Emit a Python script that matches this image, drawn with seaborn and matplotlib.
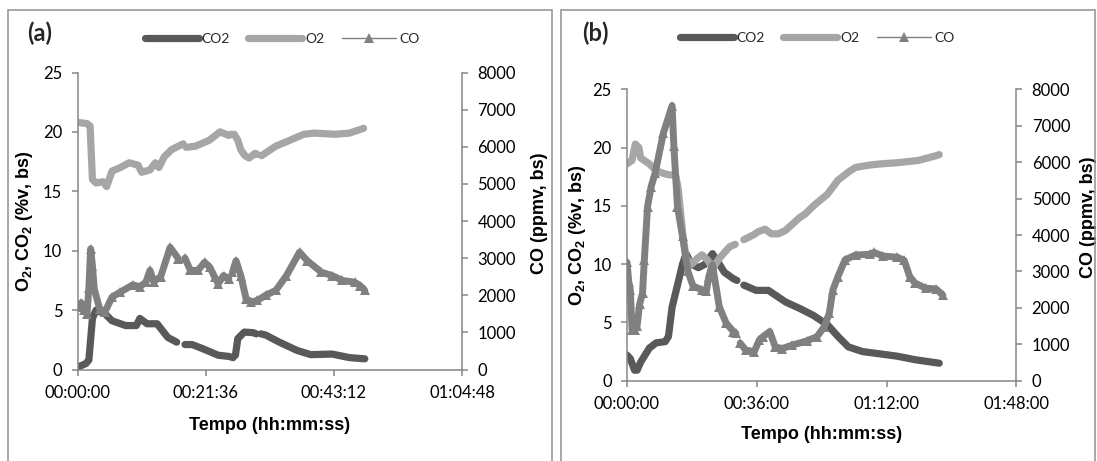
import numpy as np
import pandas as pd
import matplotlib
matplotlib.use("Agg")
import matplotlib.pyplot as plt
import seaborn as sns
from matplotlib.lines import Line2D
from matplotlib.patches import Rectangle
from matplotlib.ticker import FuncFormatter

sns.set_theme(style="white")
plt.rcParams["font.family"] = ["Lato", "DejaVu Sans"]
plt.rcParams["mathtext.fontset"] = "custom"
plt.rcParams["mathtext.rm"] = "Liberation Sans:bold"
plt.rcParams["mathtext.bf"] = "Liberation Sans:bold"
plt.rcParams["mathtext.it"] = "Liberation Sans:bold:italic"

nan = np.nan

# ---------------- data (time in minutes; nan = gap in the record) ----------------
# Panel (a)
a_o2_t = [0, 1.6, 2.1, 2.5, 3.1, 4.3, 4.9, 5.8, 7.2, 8.7, 10.2, 10.8, 12.2, 13.1, 13.7, 14.6, 15.8, 17.0, 17.8, nan,
          18.3, 19.9, 22.2, 24.0, 25.5, 25.9, nan,
          26.4, 27.0, 27.5, 28.2, 28.9, 29.9, 30.3, nan,
          31.0, 33.4, 35.8, 38.1, 39.9, 43.4, 45.8, 48.2]
a_o2_v = [20.8, 20.7, 20.5, 16.0, 15.7, 15.8, 15.4, 16.7, 17.0, 17.4, 17.2, 16.6, 16.8, 17.4, 17.0, 17.9, 18.5, 18.8, 19.0, nan,
          18.7, 18.8, 19.3, 20.0, 19.7, 19.8, nan,
          19.8, 19.3, 18.5, 18.0, 17.8, 18.2, 18.1, nan,
          18.0, 18.8, 19.3, 19.8, 19.9, 19.8, 19.9, 20.3]

a_co2_t = [0, 1.4, 1.9, 2.5, 3.1, 4.6, 5.8, 8.1, 9.9, 10.5, 11.7, 13.4, 15.2, 16.7, nan,
           18.1, 19.3, 21.1, 23.7, 25.5, 26.2, nan,
           26.6, 27.0, 28.1, 29.6, 30.1, nan,
           30.9, 31.7, 34.0, 37.0, 39.3, 42.9, 45.8, 48.4]
a_co2_v = [0.2, 0.5, 0.8, 4.3, 5.0, 4.7, 4.1, 3.7, 3.7, 4.3, 3.85, 3.85, 2.7, 2.3, nan,
           2.1, 2.1, 1.75, 1.2, 1.1, 1.0, nan,
           1.2, 2.6, 3.15, 3.1, 3.0, nan,
           3.0, 2.9, 2.3, 1.6, 1.25, 1.3, 1.0, 0.9]

a_co_t = [0, 0.6, 1.1, 1.6, 1.9, 2.2, 2.5, 2.8, 3.7, 4.6, 5.8, 7.2, 9.3, 10.5, 11.5, 12.2, 12.8, 14.0, 15.6, 17.0, nan,
          18.1, 19.0, 20.3, 21.4, 22.3, 23.1, 23.7, 24.6, 25.5, nan,
          26.1, 26.7, 27.5, 28.4, 29.3, 30.3, 31.7, 33.4, 35.2, 37.4, 38.7, 41.1, 42.9, 44.6, 46.7, 47.6, 48.4]
a_co_v = [1680, 1800, 1590, 1500, 2200, 3250, 2800, 2175, 1640, 1550, 1950, 2085, 2280, 2230, 2350, 2670, 2370, 2500, 3290, 2980, nan,
          3000, 2670, 2670, 2890, 2750, 2490, 2310, 2530, 2440, nan,
          2620, 2930, 2530, 1905, 1820, 1860, 2000, 2130, 2530, 3160, 2930, 2620, 2530, 2400, 2350, 2260, 2130]

# Panel (b)
b_o2_t = [0, 1.4, 2.3, 3.3, 3.8, 6.2, 8.1, 11.0, 13.5, 14.2, 14.9, 15.5, 16.4, 18.0, 19.5, 20.8, 22.5, 23.7, 25.6, 28.5, 30.0, nan,
          32.4, 35.0, 36.5, 38.3, 40.0, 42.0, 44.0, 47.9, 49.4, 51.7, 55.6, 58.5, 61.4, 63.4, 67.3, 70.2, 75.0, 80.8, 85.7, 86.6]
b_o2_v = [18.6, 18.9, 20.3, 20.0, 19.1, 18.6, 18.0, 17.7, 17.6, 16.5, 14.3, 12.5, 10.5, 10.0, 10.5, 10.8, 10.3, 9.6, 10.5, 11.5, 11.7, nan,
          12.1, 12.5, 12.8, 13.0, 12.6, 12.6, 12.9, 14.0, 14.3, 15.0, 16.0, 17.2, 17.9, 18.3, 18.5, 18.6, 18.7, 18.9, 19.3, 19.4]

b_co2_t = [0, 0.9, 2.1, 2.8, 3.8, 6.2, 8.1, 10.6, 11.5, 12.5, 14.0, 15.4, 16.4, 17.8, 19.8, 21.7, 23.7, 25.6, 27.0, 29.5, 30.5, nan,
           32.4, 35.8, 39.2, 44.0, 47.9, 51.7, 55.6, 58.5, 61.4, 65.3, 70.2, 75.0, 79.9, 86.6]
b_co2_v = [2.2, 1.9, 0.9, 0.9, 1.6, 2.8, 3.25, 3.35, 3.8, 6.3, 8.2, 10.0, 10.9, 10.0, 9.7, 10.0, 10.9, 10.0, 9.3, 8.75, 8.6, nan,
           8.2, 7.75, 7.75, 6.75, 6.2, 5.6, 4.8, 3.8, 2.9, 2.5, 2.3, 2.1, 1.8, 1.5]

b_co_t = [0, 0.5, 0.9, 1.4, 2.1, 2.8, 3.5, 4.3, 4.8, 5.7, 6.7, 7.8, 10.1, 12.5, 13.0, 14.0, 15.4, 16.9, 18.3, 20.8, 22.0, 22.7, 23.7,
          25.6, 27.5, 29.5, 30.2, nan,
          31.4, 32.9, 35.3, 36.7, 37.6, 39.6, 41.1, 43.0, 45.9, 49.8, 52.7, 54.7, 56.1, 57.1, 58.5, 60.5, 63.4, 67.3, 68.5,
          71.1, 75.0, 76.9, 78.4, 79.9, 82.8, 85.7, 87.6]
b_co_v = [3250, 2700, 2500, 1400, 1390, 1500, 2100, 2400, 3300, 4780, 5330, 5700, 6800, 7550, 6430, 4780, 3960, 3000, 2600, 2490, 2450, 2860, 3180,
          2030, 1580, 1350, 1300, nan,
          1030, 840, 800, 1120, 1200, 1350, 930, 880, 980, 1090, 1210, 1480, 1850, 2490, 2860, 3320, 3450, 3470, 3520,
          3420, 3390, 3300, 2860, 2680, 2540, 2520, 2350]

series_names = ["CO2", "O2", "CO"]
a_xticks = [0, 21.6, 43.2, 64.8]
b_xticks = [0, 36, 72, 108]
left_ticks = [0, 5, 10, 15, 20, 25]
right_ticks = [0, 1000, 2000, 3000, 4000, 5000, 6000, 7000, 8000]

# ---------------- styling ----------------
C_CO2 = "#595959"
C_O2 = "#a6a6a6"
C_CO = "#808080"
C_AX = "#868686"
W, H = 1097, 461


def seg_df(t, v):
    t = np.asarray(t, float)
    v = np.asarray(v, float)
    seg = np.cumsum(np.isnan(v))
    return pd.DataFrame({"t": t, "v": v, "seg": seg}).dropna()


def hms(x, pos):
    s = int(round(x * 60))
    return f"{s // 3600:02d}:{(s % 3600) // 60:02d}:{s % 60:02d}"


fig = plt.figure(figsize=(W / 100, H / 100), dpi=100)


def panel(rect, o2, co2, co, xticks, letter, letter_xy, leg_xy, ylab_x, y2lab_x, y2lab_y, xlab_y):
    ax = fig.add_axes(rect)
    ax2 = ax.twinx()
    line_kw = dict(units="seg", estimator=None, sort=False, legend=False,
                   solid_capstyle="round", solid_joinstyle="round")
    sns.lineplot(data=seg_df(*co2), x="t", y="v", color=C_CO2, linewidth=5.2, ax=ax, **line_kw)
    sns.lineplot(data=seg_df(*o2), x="t", y="v", color=C_O2, linewidth=5.2, ax=ax, **line_kw)
    sns.lineplot(data=seg_df(*co), x="t", y="v", color=C_CO, linewidth=5.0, marker="^",
                 markersize=7.5, markeredgewidth=0, ax=ax2, **line_kw)

    ax.set_xlim(xticks[0], xticks[-1])
    ax.set_xticks(xticks)
    ax.xaxis.set_major_formatter(FuncFormatter(hms))
    ax.set_ylim(0, 25)
    ax.set_yticks(left_ticks)
    ax2.set_ylim(0, 8000)
    ax2.set_yticks(right_ticks)

    for s in ["top", "right"]:
        ax.spines[s].set_visible(False)
    for s in ["top", "left", "bottom"]:
        ax2.spines[s].set_visible(False)
    for sp in [ax.spines["left"], ax.spines["bottom"], ax2.spines["right"]]:
        sp.set_color(C_AX)
        sp.set_linewidth(1.1)
    ax.tick_params(axis="both", which="major", bottom=True, left=True, direction="out",
                   length=4, width=1.1, color=C_AX, labelsize=12, labelcolor="black", pad=7)
    ax2.tick_params(axis="y", right=True, direction="out", length=4, width=1.1, color=C_AX,
                    labelsize=12, labelcolor="black", pad=7)
    ax.grid(False)
    ax2.grid(False)

    lab_font = dict(fontsize=13, fontweight="bold", family="Liberation Sans", color="black")
    ax.set_xlabel("Tempo (hh:mm:ss)", va="center", **lab_font)
    ax.xaxis.set_label_coords(0.5, xlab_y)
    ax.set_ylabel(r"O$_2$, CO$_2$ (%v, bs)", va="center", **lab_font)
    ax.yaxis.set_label_coords(ylab_x, 0.5)
    ax2.set_ylabel("CO (ppmv, bs)", va="center", **lab_font)
    ax2.yaxis.set_label_coords(y2lab_x, y2lab_y)

    fig.text(letter_xy[0] / W, 1 - letter_xy[1] / H, letter, fontsize=17, fontweight="bold",
             family=["Lato", "DejaVu Sans"], ha="left", va="center")

    handles = [
        Line2D([0], [0], color=C_CO2, lw=5.2),
        Line2D([0], [0], color=C_O2, lw=5.2),
        Line2D([0], [0], color=C_CO, lw=1.0, marker="^", markersize=6.5, markeredgewidth=0),
    ]
    ax.legend(handles, series_names, loc="center", bbox_to_anchor=(leg_xy[0] / W, 1 - leg_xy[1] / H),
              bbox_transform=fig.transFigure, ncol=3, frameon=False, fontsize=10,
              handlelength=3.9, handletextpad=0.2, columnspacing=1.3, borderaxespad=0)
    return ax, ax2


panel([77.6 / W, 1 - 369.5 / H, 384.5 / W, 297 / H],
      (a_o2_t, a_o2_v), (a_co2_t, a_co2_v), (a_co_t, a_co_v), a_xticks,
      "(a)", (27, 33), (282, 39), -0.137, 1.20, 0.527, -0.187)
panel([627.0 / W, 1 - 380.7 / H, 389.4 / W, 291.4 / H],
      (b_o2_t, b_o2_v), (b_co2_t, b_co2_v), (b_co_t, b_co_v), b_xticks,
      "(b)", (582, 33), (817, 38), -0.126, 1.184, 0.56, -0.186)

# panel frames
for x0, x1 in [(8, 552), (561, 1095)]:
    fig.patches.append(Rectangle((x0 / W, -0.05), (x1 - x0) / W, 1.05 - 10 / H,
                                 transform=fig.transFigure, fill=False,
                                 edgecolor="#8f8f8f", linewidth=1.1))

fig.savefig("out.png", dpi=100)
